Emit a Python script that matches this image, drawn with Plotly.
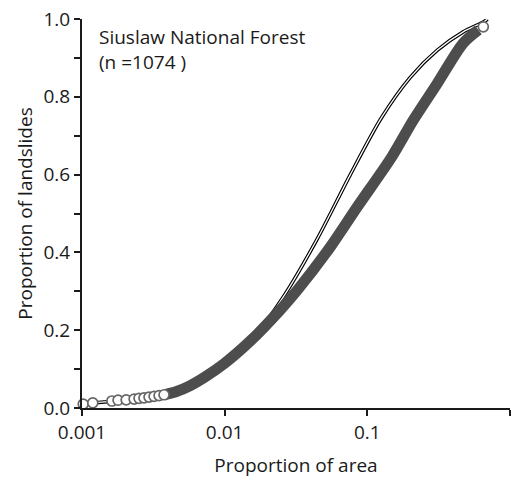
import plotly.graph_objects as go

# Observed landslide proportions: sparse open circles in the lower tail
tail_x = [0.00102, 0.00119, 0.00162, 0.00179, 0.00204, 0.00232, 0.00251,
          0.00272, 0.00295, 0.00320, 0.00347, 0.00376]
tail_y = [0.010, 0.013, 0.018, 0.020, 0.021, 0.023, 0.025,
          0.026, 0.028, 0.030, 0.032, 0.034]

# Observed landslide proportions: dense part of the curve
obs_x = [0.00376, 0.0045, 0.0057, 0.0073, 0.010, 0.0151, 0.0245,
         0.0323, 0.055, 0.085, 0.148, 0.21, 0.31, 0.47, 0.60, 0.65]
obs_y = [0.034, 0.041, 0.057, 0.080, 0.115, 0.172, 0.252,
         0.303, 0.414, 0.517, 0.645, 0.740, 0.835, 0.938, 0.972, 0.980]

# Expected proportion (uniform density over area)
model_x = [0.00105, 0.002, 0.004, 0.0073, 0.010, 0.0151, 0.0257, 0.0446,
           0.076, 0.125, 0.2, 0.31, 0.47, 0.65, 0.695]
model_y = [0.012, 0.020, 0.038, 0.080, 0.115, 0.172, 0.285, 0.435,
           0.600, 0.745, 0.850, 0.920, 0.967, 0.992, 1.0]

x_ticks = [0.001, 0.01, 0.1, 1]
x_tick_text = ["0.001", "0.01", "0.1", "1"]
y_ticks = [0.0, 0.2, 0.4, 0.6, 0.8, 1.0]
y_tick_text = ["0.0", "0.2", "0.4", "0.6", "0.8", "1.0"]

FONT = "Open Sans"
INK = "#1a1a1a"
BAND = "#4d4d4d"
SIZE = 19

fig = go.Figure()

# Model curve drawn as a double line: black outline with a white core
fig.add_trace(go.Scatter(x=model_x, y=model_y, mode="lines",
                         line=dict(color="black", width=3.6,
                                   shape="spline", smoothing=0.8),
                         hoverinfo="skip", cliponaxis=False))
fig.add_trace(go.Scatter(x=model_x, y=model_y, mode="lines",
                         line=dict(color="white", width=1.3,
                                   shape="spline", smoothing=0.8),
                         hoverinfo="skip", cliponaxis=False))

# Dense observed band
fig.add_trace(go.Scatter(x=obs_x[:-1], y=obs_y[:-1], mode="lines",
                         line=dict(color=BAND, width=11,
                                   shape="spline", smoothing=0.8),
                         hoverinfo="skip", cliponaxis=False))

# Open circles in the lower tail and at the last observation
fig.add_trace(go.Scatter(x=tail_x + obs_x[-1:], y=tail_y + obs_y[-1:],
                         mode="markers",
                         marker=dict(symbol="circle", size=10, color="white",
                                     line=dict(color="#666666", width=1.7)),
                         cliponaxis=False))

# Log axis: annotation x is given as log10 of the value
fig.add_annotation(x=-3, y=1.0, xref="x", yref="y",
                   xshift=15, yshift=-3, xanchor="left", yanchor="top",
                   align="left", showarrow=False,
                   text="Siuslaw National Forest<br>(n =1074 )",
                   font=dict(family=FONT, size=SIZE, color=INK))

fig.update_layout(
    width=514, height=481,
    margin=dict(l=82, r=4, t=19, b=73),
    paper_bgcolor="white", plot_bgcolor="white",
    showlegend=False,
    font=dict(family=FONT, size=SIZE, color=INK),
    xaxis=dict(type="log", range=[-3, 0],
               tickvals=x_ticks, ticktext=x_tick_text,
               ticks="outside", ticklen=6, tickwidth=1.8, tickcolor=INK,
               showline=True, linecolor=INK, linewidth=2,
               showgrid=False, zeroline=False,
               tickfont=dict(family=FONT, size=SIZE, color=INK),
               title=dict(text="Proportion of area", standoff=15,
                          font=dict(family=FONT, size=SIZE, color=INK))),
    yaxis=dict(range=[0, 1],
               tickvals=y_ticks, ticktext=y_tick_text,
               ticks="outside", ticklen=6, tickwidth=1.8, tickcolor=INK,
               minor=dict(dtick=0.1, ticks="outside", ticklen=6,
                          tickwidth=1.8, tickcolor=INK, showgrid=False),
               showline=True, linecolor=INK, linewidth=2,
               showgrid=False, zeroline=False,
               tickfont=dict(family=FONT, size=SIZE, color=INK),
               title=dict(text="Proportion of landslides", standoff=6,
                          font=dict(family=FONT, size=SIZE, color=INK))),
)

fig.write_html("out.html")
